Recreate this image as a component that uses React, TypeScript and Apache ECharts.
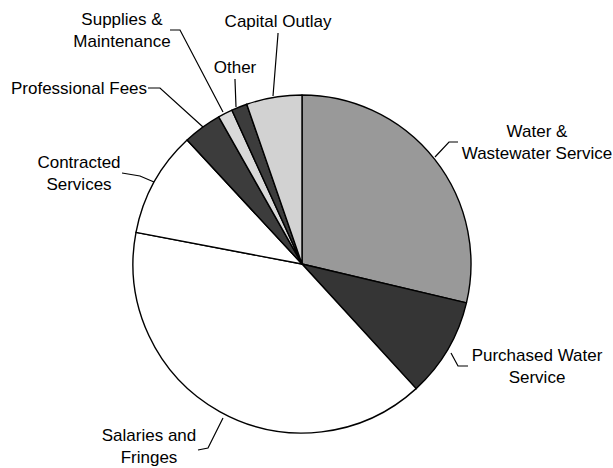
import React, { useEffect, useRef } from "react";
import * as echarts from "echarts";

const categories = [
  "Water &\nWastewater Service",
  "Purchased Water\nService",
  "Salaries and\nFringes",
  "Contracted\nServices",
  "Professional Fees",
  "Supplies &\nMaintenance",
  "Other",
  "Capital Outlay",
];
const shares = [28.7, 9.5, 39.8, 10.1, 3.7, 1.4, 1.5, 5.3];

const sliceColors = ["#999999", "#353535", "#ffffff", "#ffffff", "#3c3c3c", "#d9d9d9", "#3c3c3c", "#d2d2d2"];

const labelSpots: { x: number; y: number; line: number[][] }[] = [
  { x: 537, y: 142, line: [[435, 157], [449, 142], [458, 142]] },
  { x: 537, y: 366, line: [[451, 353], [458, 366], [468, 366]] },
  { x: 149, y: 446, line: [[223, 418], [208, 448], [198, 450]] },
  { x: 79, y: 173, line: [[154, 182], [140, 176], [122, 173]] },
  { x: 79, y: 88, line: [[203, 127], [160, 88], [148, 88]] },
  { x: 122, y: 30, line: [[223, 112], [180, 30], [170, 30]] },
  { x: 235, y: 67, line: [[236, 107], [235, 80], [235, 79]] },
  { x: 278, y: 21, line: [[273, 96], [278, 34], [278, 33]] },
];

export default function App() {
  const ref = useRef<HTMLDivElement>(null);
  useEffect(() => {
    if (!ref.current) return;
    const chart = echarts.init(ref.current, undefined, { renderer: "svg" });
    chart.setOption({
      animation: false,
      backgroundColor: "#ffffff",
      series: [
        {
          type: "pie",
          center: [302, 264],
          radius: 169,
          startAngle: 90,
          clockwise: true,
          avoidLabelOverlap: false,
          data: categories.map((name, i) => ({
            name,
            value: shares[i],
            itemStyle: { color: sliceColors[i] },
          })),
          itemStyle: { borderColor: "#000000", borderWidth: 1.4 },
          label: {
            show: true,
            position: "outside",
            formatter: "{b}",
            fontFamily: "Liberation Sans, Arial, sans-serif",
            fontSize: 17,
            lineHeight: 22,
            color: "#000000",
            align: "center",
          },
          labelLine: {
            show: true,
            lineStyle: { color: "#000000", width: 1.2 },
          },
          labelLayout: (params: any) => {
            const s = labelSpots[params.dataIndex];
            return {
              x: s.x,
              y: s.y,
              align: "center",
              verticalAlign: "middle",
              labelLinePoints: s.line,
            };
          },
          emphasis: { disabled: true },
        },
      ],
    });
    return () => chart.dispose();
  }, []);
  return (
    <div
      ref={ref}
      style={{ position: "absolute", left: 0, top: 0, width: 613, height: 468, background: "#fff" }}
    />
  );
}
